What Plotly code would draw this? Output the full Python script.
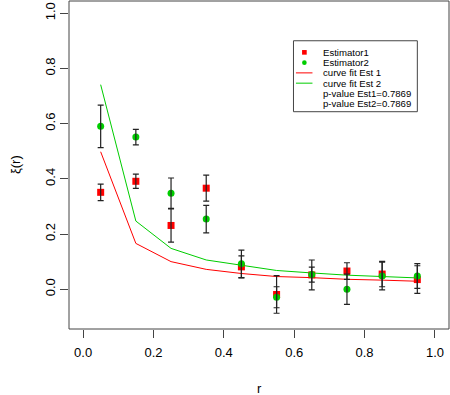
import plotly.graph_objects as go

# values
r = [0.05, 0.15, 0.25, 0.35, 0.45, 0.55, 0.65, 0.75, 0.85, 0.95]
est1 = [0.351, 0.391, 0.231, 0.366, 0.081, -0.019, 0.052, 0.066, 0.055, 0.035]
est1_err = [0.030, 0.026, 0.060, 0.047, 0.040, 0.068, 0.054, 0.030, 0.046, 0.050]
est2 = [0.590, 0.551, 0.348, 0.254, 0.092, -0.029, 0.053, 0.000, 0.048, 0.048]
est2_err = [0.077, 0.028, 0.055, 0.050, 0.050, 0.038, 0.027, 0.055, 0.050, 0.045]
fit1 = [0.498, 0.166, 0.100, 0.072, 0.057, 0.046, 0.042, 0.036, 0.033, 0.029]
fit2 = [0.741, 0.247, 0.148, 0.106, 0.087, 0.068, 0.059, 0.051, 0.046, 0.041]

legend_labels = ["Estimator1", "Estimator2", "curve fit Est 1", "curve fit Est 2",
                 "p-value Est1=0.7869", "p-value Est2=0.7869"]
tick_vals = [0.0, 0.2, 0.4, 0.6, 0.8, 1.0]
tick_text = ["0.0", "0.2", "0.4", "0.6", "0.8", "1.0"]

RED = "#ff0000"
GREEN = "#00cd00"
AXIS = "#444444"
FONT = "Liberation Sans"

fig = go.Figure()

fig.add_trace(go.Scatter(x=r, y=fit1, mode="lines", line=dict(color=RED, width=1)))
fig.add_trace(go.Scatter(x=r, y=fit2, mode="lines", line=dict(color=GREEN, width=1)))
fig.add_trace(go.Scatter(x=r, y=est1, mode="markers",
                         marker=dict(symbol="square", size=7, color=RED)))
fig.add_trace(go.Scatter(x=r, y=est2, mode="markers",
                         marker=dict(symbol="circle", size=7, color=GREEN)))
# error bars drawn on top of the points, like R's arrows()
for ys, es in [(est1, est1_err), (est2, est2_err)]:
    fig.add_trace(go.Scatter(x=r, y=ys, mode="markers",
                             marker=dict(size=1, color="rgba(0,0,0,0)"),
                             error_y=dict(type="data", array=es, color="#222222",
                                          thickness=1.2, width=3)))

# hand-made legend box (R style)
lx0, lx1, ly0, ly1 = 0.598, 0.950, 0.643, 0.900
fig.add_shape(type="rect", xref="x", yref="y", x0=lx0, x1=lx1, y0=ly0, y1=ly1,
              line=dict(color=AXIS, width=1), fillcolor="white", layer="above")
row0, step = 0.858, 0.0372
for i, lab in enumerate(legend_labels):
    yy = row0 - i * step
    fig.add_annotation(x=0.677, y=yy, xref="x", yref="y", text=lab, showarrow=False,
                       xanchor="left", yanchor="middle",
                       font=dict(family=FONT, size=9.6, color="black"))
sym_x = 0.629
dx, dy = 0.0066, 0.0084
fig.add_shape(type="rect", xref="x", yref="y", x0=sym_x - dx, x1=sym_x + dx,
              y0=row0 - dy, y1=row0 + dy, fillcolor=RED, line=dict(width=0), layer="above")
fig.add_shape(type="circle", xref="x", yref="y", x0=sym_x - dx, x1=sym_x + dx,
              y0=row0 - step - dy, y1=row0 - step + dy, fillcolor=GREEN,
              line=dict(width=0), layer="above")
for k, col in [(2, RED), (3, GREEN)]:
    fig.add_shape(type="line", xref="x", yref="y", x0=0.605, x1=0.652,
                  y0=row0 - k * step, y1=row0 - k * step,
                  line=dict(color=col, width=1), layer="above")

# plot box
fig.add_shape(type="rect", xref="paper", yref="paper", x0=0, x1=1, y0=0, y1=1,
              line=dict(color=AXIS, width=1), layer="above")

fig.add_annotation(x=0.5, y=-0.18, xref="paper", yref="paper", text="r", showarrow=False,
                   font=dict(family=FONT, size=13, color="black"), yanchor="middle")
fig.add_annotation(x=-0.142, y=0.5, xref="paper", yref="paper", text="ξ(r)", showarrow=False,
                   textangle=-90, font=dict(family=FONT, size=13, color="black"),
                   xanchor="center")

axis_common = dict(showgrid=False, zeroline=False, showline=False, ticks="outside",
                   ticklen=8, tickcolor=AXIS, tickwidth=1,
                   tickfont=dict(family=FONT, size=13, color="black"))
fig.update_xaxes(range=[-0.04, 1.04], tickvals=tick_vals, ticktext=tick_text,
                 ticklabelstandoff=3, **axis_common)
fig.update_yaxes(range=[-0.144, 1.044], tickvals=tick_vals, ticktext=tick_text,
                 tickangle=-90, **axis_common)

fig.update_layout(width=450, height=395, showlegend=False,
                  margin=dict(l=69, r=1, t=1, b=66),
                  paper_bgcolor="white", plot_bgcolor="white",
                  font=dict(family=FONT, color="black"))

# page body has a default 8px margin; drop it so the figure sits at the window corner
fig.write_html("out.html", config={"displayModeBar": False},
               post_script="document.body.style.margin='0';")
